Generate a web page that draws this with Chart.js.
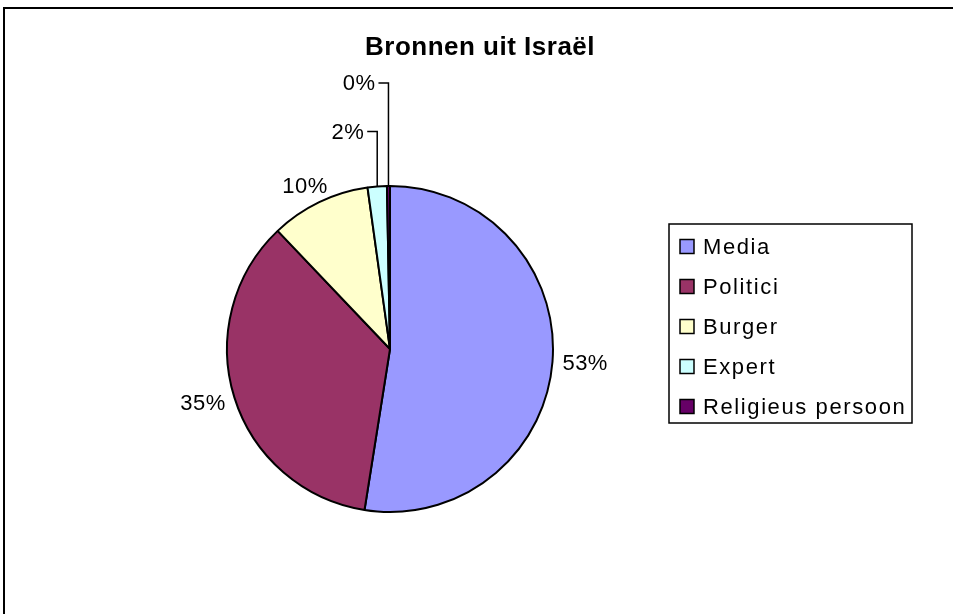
<!DOCTYPE html>
<html>
<head>
<meta charset="utf-8">
<script src="https://cdn.jsdelivr.net/npm/chart.js@4.4.1/dist/chart.umd.min.js"></script>
<style>
  html, body { margin: 0; padding: 0; background: #fff; }
  #wrap { width: 953px; height: 614px; position: relative; }
</style>
</head>
<body>
<div id="wrap"><canvas id="pie" width="953" height="614"></canvas></div>
<script>
// --- data ---
const categories = ['Media', 'Politici', 'Burger', 'Expert', 'Religieus persoon'];
const shares = [52.5, 35.4, 9.9, 1.9, 0.3];
const colours = ['#9999FF', '#993366', '#FFFFCC', '#CCFFFF', '#660066'];
const chartTitle = 'Bronnen uit Israël';

// kleine stukken krijgen een leader line
const leaderRise = [55, 103];

const FONT = '"Liberation Sans", Arial, sans-serif';

const framePlugin = {
    id: 'frame',
    afterDraw(chart) {
        const ctx = chart.ctx;
        ctx.save();
        // kader links en boven
        ctx.strokeStyle = '#000';
        ctx.lineWidth = 2;
        ctx.beginPath();
        ctx.moveTo(4, 614);
        ctx.lineTo(4, 8);
        ctx.lineTo(953, 8);
        ctx.stroke();

        // titel
        ctx.fillStyle = '#000';
        ctx.font = 'bold 26px ' + FONT;
        ctx.letterSpacing = '0.5px';
        ctx.textAlign = 'center';
        ctx.textBaseline = 'middle';
        ctx.fillText(chartTitle, 480, 48);

        // legenda
        ctx.lineWidth = 1.5;
        ctx.strokeRect(669, 224, 243, 199);
        ctx.font = '22px ' + FONT;
        ctx.letterSpacing = '1.6px';
        ctx.textAlign = 'left';
        categories.forEach((name, i) => {
            const y = 246.5 + i * 40;
            ctx.fillStyle = colours[i];
            ctx.fillRect(680, y - 7, 14, 14);
            ctx.strokeStyle = '#000';
            ctx.lineWidth = 1.5;
            ctx.strokeRect(680, y - 7, 14, 14);
            ctx.fillStyle = '#000';
            ctx.fillText(name, 703, y + 1);
        });

        // percentage labels
        const meta = chart.getDatasetMeta(0);
        ctx.font = '22px ' + FONT;
        ctx.letterSpacing = '0.5px';
        let small = 0;
        meta.data.forEach((arc, i) => {
            const p = arc.getProps(['x', 'y', 'startAngle', 'endAngle', 'outerRadius']);
            const mid = (p.startAngle + p.endAngle) / 2;
            const txt = Math.round(shares[i]) + '%';
            const w = ctx.measureText(txt).width;
            const h = 16;
            if (shares[i] < 3) {
                const x0 = p.x + Math.cos(mid) * p.outerRadius;
                const y0 = p.y + Math.sin(mid) * p.outerRadius;
                const y1 = y0 - leaderRise[small++];
                ctx.strokeStyle = '#000';
                ctx.lineWidth = 1.5;
                ctx.beginPath();
                ctx.moveTo(x0, y0);
                ctx.lineTo(x0, y1);
                ctx.lineTo(x0 - 10, y1);
                ctx.stroke();
                ctx.textAlign = 'right';
                ctx.textBaseline = 'middle';
                ctx.fillText(txt, x0 - 13, y1 + 1);
            } else {
                const r = p.outerRadius + 10;
                const cx = p.x + Math.cos(mid) * (r + w / 2);
                const cy = p.y + Math.sin(mid) * (r + h / 2);
                ctx.textAlign = 'center';
                ctx.textBaseline = 'middle';
                ctx.fillText(txt, cx, cy + 1);
            }
        });
        ctx.restore();
    }
};

new Chart(document.getElementById('pie'), {
    type: 'pie',
    data: {
        labels: categories,
        datasets: [{
            data: shares,
            backgroundColor: colours,
            borderColor: '#000',
            borderWidth: 2
        }]
    },
    options: {
        responsive: false,
        animation: false,
        layout: { padding: { left: 226, right: 399, top: 185, bottom: 101 } },
        plugins: {
            legend: { display: false },
            title: { display: false },
            tooltip: { enabled: false }
        }
    },
    plugins: [framePlugin]
});
</script>
</body>
</html>
